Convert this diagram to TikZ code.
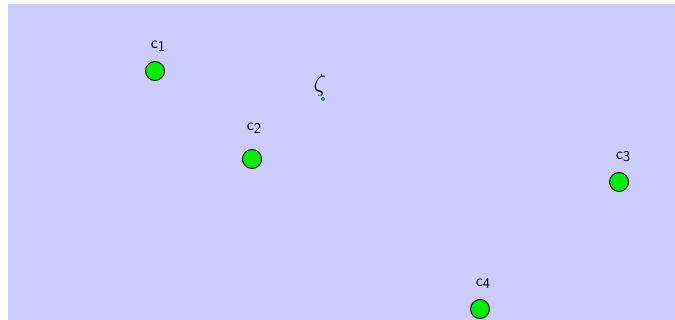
\documentclass[tikz,border=0pt]{standalone}
\usepackage{amsmath}
\usepackage{tikz}
\definecolor{PLANEbg}{RGB}{204, 204, 255}
\definecolor{PTgreen}{RGB}{0, 238, 0}

\tikzset{
    center/.style={circle, draw=black, fill=PTgreen, line width=0.9pt, minimum size=19pt, inner sep=0pt},
    clabel/.style={font=\sffamily\fontsize{17}{17}\selectfont, inner sep=1pt},
}
\newcommand{\cname}[1]{c\raisebox{-0.3ex}{\fontsize{15}{15}\selectfont #1}}

\begin{document}
\begin{tikzpicture}[x=1pt, y=-1pt]
        \useasboundingbox (0, 0) rectangle (675, 320);
	\fill[PLANEbg] (8, 4) rectangle (675, 320);
	% centres
	\node[center] (c1) at (155, 71) {};
	\node[center] (c2) at (252, 159) {};
	\node[center] (c3) at (619, 182) {};
	\node[center] (c4) at (480, 309) {};
	\node[clabel] (l1) at (158, 46) {\cname{1}};
	\node[clabel] (l2) at (254, 128) {\cname{2}};
	\node[clabel] (l3) at (623, 157) {\cname{3}};
	\node[clabel] (l4) at (483, 284) {\cname{4}};
        % the point zeta
        \node[circle, draw=black!70, fill=PTgreen, minimum size=3.5pt, inner sep=0pt] (z) at (323, 99) {};
        \node[font=\fontsize{26}{26}\selectfont, inner sep=0pt] (lz) at (320, 85) {$\zeta$};
    \end{tikzpicture}
\end{document}
